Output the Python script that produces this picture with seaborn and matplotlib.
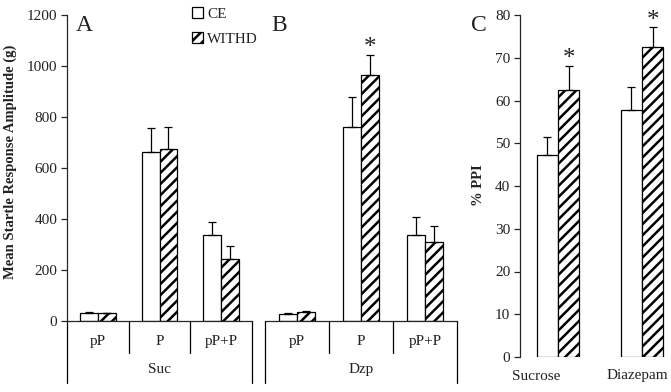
import matplotlib
matplotlib.use('Agg')
import matplotlib.pyplot as plt
import matplotlib.patches as mpatches
from matplotlib.transforms import ScaledTranslation
import seaborn as sns
import pandas as pd

## Data
conds = ['pP', 'P', 'pP+P']
groups = ['CE', 'WITHD']

suc_ce = [31, 663, 337]
suc_ce_err = [3, 94, 52]
suc_wd = [30, 675, 243]
suc_wd_err = [3, 86, 52]

dzp_ce = [27, 761, 337]
dzp_ce_err = [3, 119, 72]
dzp_wd = [35, 965, 311]
dzp_wd_err = [3, 80, 61]

drugs = ['Sucrose', 'Diazepam']
ppi_ce = [47.3, 57.8]
ppi_ce_err = [4.2, 5.3]
ppi_wd = [62.5, 72.6]
ppi_wd_err = [5.6, 4.5]

## Style
sns.set_style('ticks')
plt.rcParams['font.family'] = ['Liberation Serif', 'DejaVu Serif']
plt.rcParams['hatch.linewidth'] = 1.8
plt.rcParams['axes.linewidth'] = 0.9
TXT = '#222222'
FS = 11

W, H = 671, 392
fig = plt.figure(figsize=(W / 100, H / 100), dpi=100)


def px_axes(x0, x1, ytop, ybot):
    # axes placed in pixel coords of the reference (y from top)
    return fig.add_axes([x0 / W, (H - ybot) / H, (x1 - x0) / W, (ybot - ytop) / H])


def draw_bars(ax, cats, ce, ce_err, wd, wd_err, width):
    df = pd.DataFrame({
        'cond': cats * 2,
        'group': [groups[0]] * len(cats) + [groups[1]] * len(cats),
        'value': ce + wd,
    })
    sns.barplot(data=df, x='cond', y='value', hue='group', order=cats, hue_order=groups,
                palette=['white', 'white'], saturation=1, edgecolor='black', linewidth=0.9,
                width=width, errorbar=None, legend=False, ax=ax)
    for cont, errs in zip(ax.containers, [ce_err, wd_err]):
        xs = [b.get_x() + b.get_width() / 2 for b in cont]
        hs = [b.get_height() for b in cont]
        ax.errorbar(xs, hs, yerr=[[0] * len(errs), errs], fmt='none', ecolor='black',
                    elinewidth=0.9, capsize=3, capthick=0.9)
    for b in ax.containers[1]:
        b.set_hatch('///')


def star(ax, bar, err):
    x = bar.get_x() + bar.get_width() / 2
    ax.annotate('*', xy=(x, bar.get_height() + err), xytext=(0, -3), textcoords='offset points',
                ha='center', va='bottom', fontsize=18, color=TXT)


def category_box(ax, n, label):
    trans = ax.get_xaxis_transform()
    for i in range(n + 1):
        x = i - 0.5
        low = -0.203 if i in (0, n) else -0.105
        ax.plot([x, x], [0, low], transform=trans, clip_on=False, color='black', lw=0.9)
    ax.set_xlim(-0.5, n - 0.5)
    ax.set_xlabel(label, fontsize=FS, color=TXT, labelpad=11)
    ax.tick_params(axis='x', length=0, pad=10, labelsize=FS, labelcolor=TXT)


## Panel A
axA = px_axes(67, 252, 15, 321)
draw_bars(axA, conds, suc_ce, suc_ce_err, suc_wd, suc_wd_err, 0.58)
axA.set_ylim(0, 1200)
axA.set_yticks(range(0, 1201, 200))
axA.tick_params(axis='y', length=4, width=0.9, pad=3, labelsize=FS, labelcolor=TXT)
axA.set_ylabel('')
sns.despine(ax=axA)
category_box(axA, len(conds), 'Suc')

## Panel B
axB = px_axes(265, 457, 15, 321)
draw_bars(axB, conds, dzp_ce, dzp_ce_err, dzp_wd, dzp_wd_err, 0.57)
axB.set_ylim(0, 1200)
axB.set_yticks([])
axB.set_ylabel('')
sns.despine(ax=axB, left=True)
category_box(axB, len(conds), 'Dzp')
star(axB, axB.containers[1][1], dzp_wd_err[1])

## Panel C
axC = px_axes(520, 671, 15, 357)
draw_bars(axC, drugs, ppi_ce, ppi_ce_err, ppi_wd, ppi_wd_err, 0.51)
axC.set_ylim(0, 80)
axC.set_xlim(-0.452, 1.345)
axC.set_yticks(range(0, 81, 10))
axC.tick_params(axis='y', length=4, width=0.9, pad=3, labelsize=FS, labelcolor=TXT)
axC.tick_params(axis='x', length=0, pad=9, labelsize=FS, labelcolor=TXT)
axC.set_xlabel('')
axC.set_ylabel('')
sns.despine(ax=axC, bottom=True)
labs = axC.get_xticklabels()
for lab, dx in zip(labs, [-0.22, -0.05]):
    lab.set_transform(lab.get_transform() + ScaledTranslation(dx, 0, fig.dpi_scale_trans))
for i in range(len(drugs)):
    star(axC, axC.containers[1][i], ppi_wd_err[i])

## Axis titles / panel letters
fig.text(10 / W, 1 - 162 / H, 'Mean Startle Response Amplitude (g)', rotation=90,
         ha='center', va='center', fontsize=10.5, fontweight='bold', color=TXT)
fig.text(479 / W, 1 - 185 / H, '% PPI', rotation=90, ha='center', va='center',
         fontsize=10.5, fontweight='bold', color=TXT)
for letter, x in [('A', 76), ('B', 271), ('C', 471)]:
    fig.text(x / W, 1 - 31 / H, letter, ha='left', va='baseline', fontsize=17, color=TXT)

## Legend
handles = [mpatches.Patch(facecolor='white', edgecolor='black', linewidth=0.9),
           mpatches.Patch(facecolor='white', edgecolor='black', linewidth=0.9, hatch='///')]
fig.legend(handles, groups, loc='upper left', bbox_to_anchor=(192 / W, 1 - 7 / H),
           bbox_transform=fig.transFigure, frameon=False, fontsize=FS,
           handlelength=0.7, handleheight=0.7, handletextpad=0.3,
           labelspacing=0.75, borderpad=0, borderaxespad=0, labelcolor=TXT)

fig.savefig('out.png', dpi=100)
